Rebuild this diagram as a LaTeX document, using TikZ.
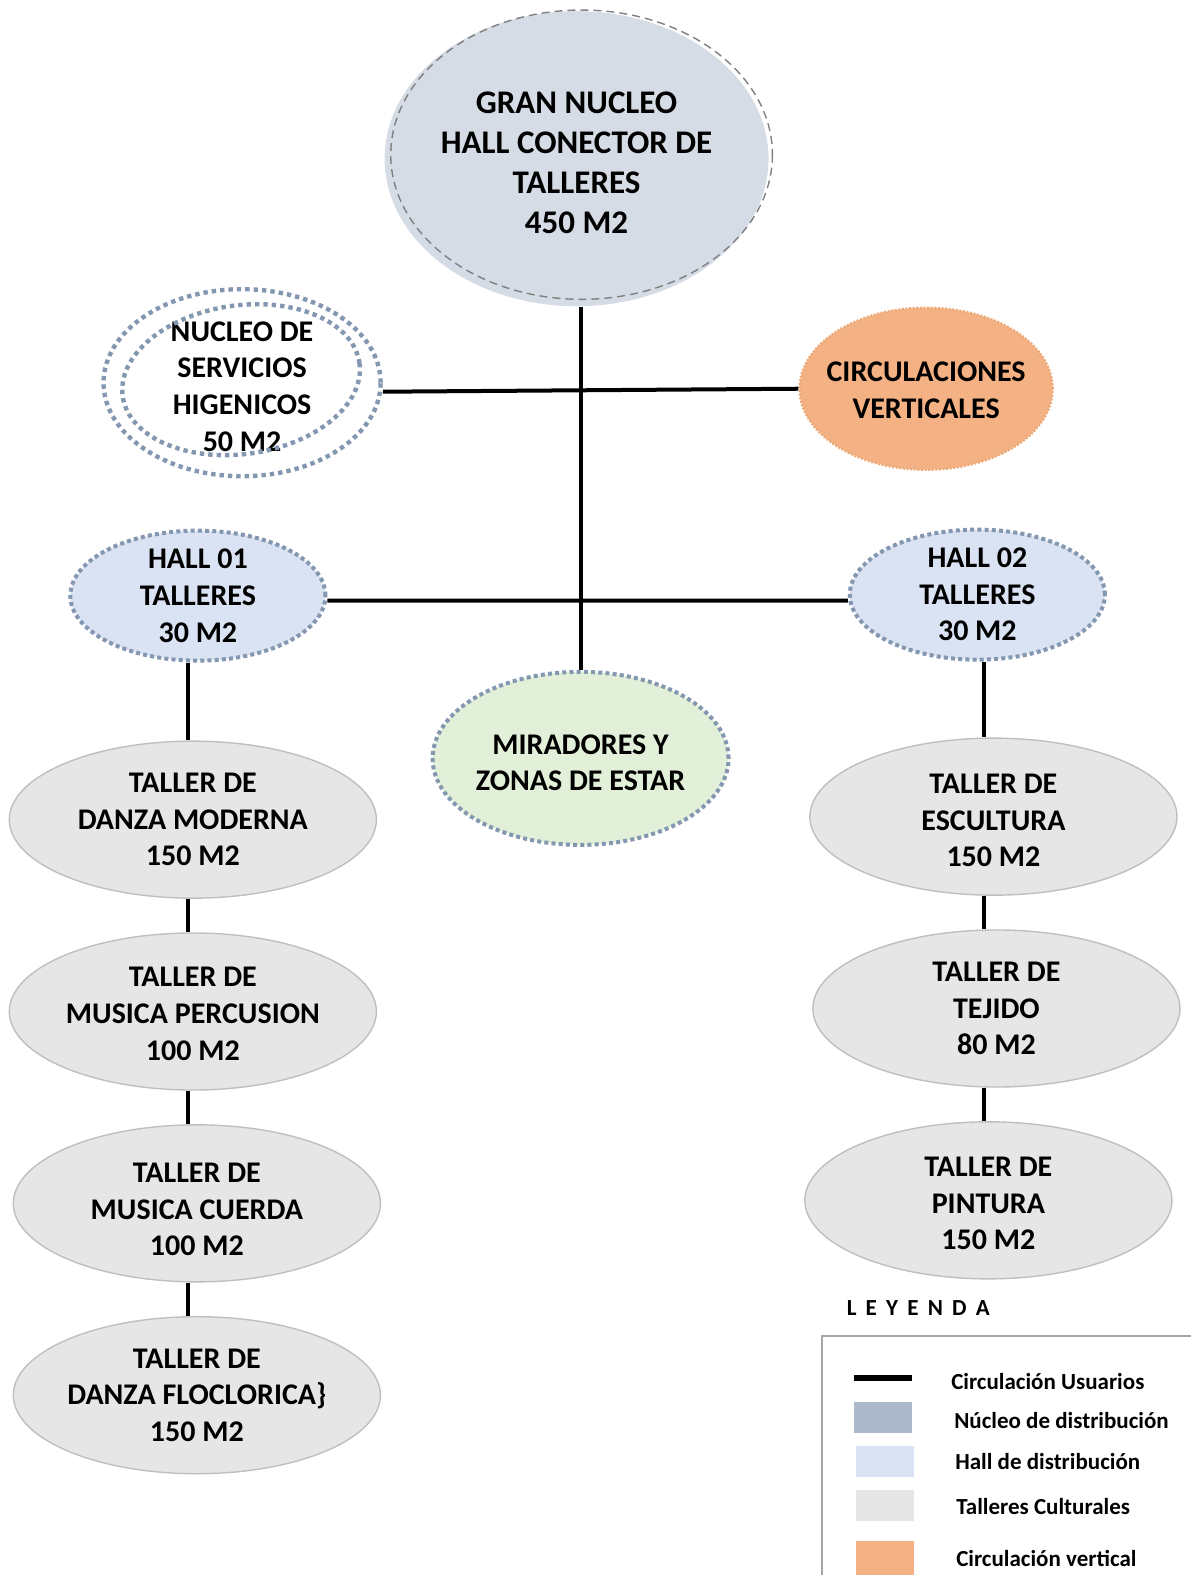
\documentclass[tikz,border=0pt]{standalone}
\usepackage{fontspec}
\setmainfont{Carlito}
\usetikzlibrary{shapes.geometric}

\definecolor{nucleofill}{HTML}{D6DCE5}
\definecolor{hallfill}{HTML}{DAE3F3}
\definecolor{dotblue}{HTML}{8497B0}
\definecolor{miradfill}{HTML}{E2F0D9}
\definecolor{tallerfill}{HTML}{E6E6E6}
\definecolor{tallerline}{HTML}{BFBFBF}
\definecolor{circfill}{HTML}{F4B183}
\definecolor{legnucleo}{HTML}{ADB9CA}

\begin{document}
\begin{tikzpicture}[x=0.5021pt,y=-0.5021pt,
  conn/.style={line width=2pt,black},
  txt/.style={font=\bfseries\fontsize{15}{18.3}\selectfont,align=center},
  oval/.style={ellipse,inner sep=0pt,txt},
  tdown/.style={text height=#1,text depth=0pt},
  taller/.style={oval,fill=tallerfill,draw=tallerline,line width=0.7pt,
    minimum width=183.5pt,minimum height=78.5pt},
  hall/.style={oval,fill=hallfill,draw=dotblue,line width=2pt,
    dash pattern=on 2pt off 1.6pt,minimum width=127.5pt,minimum height=65pt,inner ysep=-4pt},
  legtxt/.style={anchor=west,font=\bfseries\fontsize{11.5}{13}\selectfont},
  swatch/.style={minimum width=29pt,minimum height=15.5pt,inner sep=0pt,anchor=west}]
\useasboundingbox (0,0) rectangle (1186,1568);

% gran nucleo
\node (nucleo) [oval,fill=nucleofill,minimum width=189pt,minimum height=147.5pt,
  font=\bfseries\fontsize{16.5}{20}\selectfont,tdown=74.9pt] at (574,158)
  {GRAN NUCLEO\\HALL CONECTOR DE\\TALLERES\\450 M2};
\draw[gray,line width=0.7pt,dash pattern=on 4pt off 2.5pt] (579,154) ellipse (190 and 144);

% servicios y circulaciones
\node (serv) [oval,draw=dotblue,line width=2.2pt,dash pattern=on 2.2pt off 2pt,
  minimum width=138.5pt,minimum height=93.5pt,inner ysep=-4pt,tdown=68.4pt] at (241,381)
  {NUCLEO DE\\SERVICIOS\\HIGENICOS\\50 M2};
\draw[dotblue,line width=2.2pt,dash pattern=on 2.2pt off 2pt,rotate around={8:(240,378)}]
  (240,378) ellipse (119 and 74);
\node (circ) [oval,fill=circfill,draw=circfill!85!brown,line width=1.2pt,
  dash pattern=on 1pt off 0.8pt,minimum width=126.5pt,minimum height=81pt,inner xsep=-6pt,
  tdown=29.8pt] at (922,387) {CIRCULACIONES\\VERTICALES};

% halls y miradores
\node (hall1) [hall] at (197,593) {HALL 01\\TALLERES\\30 M2};
\node (hall2) [hall] at (973,592) {HALL 02\\TALLERES\\30 M2};
\node (mirad) [oval,fill=miradfill,draw=dotblue,line width=2pt,dash pattern=on 2pt off 1.6pt,
  minimum width=143.5pt,minimum height=86.5pt,tdown=32.3pt] at (578,755)
  {MIRADORES Y\\ZONAS DE ESTAR};

% talleres
\node (danzam) [taller] at (192,816) {TALLER DE\\DANZA MODERNA\\150 M2};
\node (musperc) [taller,tdown=48.6pt] at (192,1007) {TALLER DE\\MUSICA PERCUSION\\100 M2};
\node (muscuer) [taller,tdown=52.6pt] at (196,1198) {TALLER DE\\MUSICA CUERDA\\100 M2};
\node (danzaf) [taller] at (196,1389) {TALLER DE\\DANZA FLOCLORICA\}\\150 M2};
\node (escult) [taller,tdown=50.1pt] at (989,813) {TALLER DE\\ESCULTURA\\150 M2};
\node (tejido) [taller] at (992,1004) {TALLER DE\\TEJIDO\\80 M2};
\node (pintura) [taller,tdown=49.6pt] at (984,1195) {TALLER DE\\PINTURA\\150 M2};

% circulacion
\coordinate (lcol) at (187,0);
\coordinate (rcol) at (980,0);
\draw[conn] (mirad) -- (mirad |- nucleo.south);
\draw[conn] ([yshift=-4.5pt]serv.east) -- (circ.west);
\draw[conn] ([yshift=-2.5pt]hall1.east) -- ([yshift=-3pt]hall2.west);
\draw[conn] (hall1.south -| lcol) -- (danzam.north -| lcol);
\draw[conn] (danzam.south -| lcol) -- (musperc.north -| lcol);
\draw[conn] (musperc.south -| lcol) -- (muscuer.north -| lcol);
\draw[conn] (muscuer.south -| lcol) -- (danzaf.north -| lcol);
\draw[conn] (hall2.south -| rcol) -- (escult.north -| rcol);
\draw[conn] (escult.south -| rcol) -- (tejido.north -| rcol);
\draw[conn] (tejido.south -| rcol) -- (pintura.north -| rcol);

% leyenda
\node (leyenda) [legtxt] at (836,1302)
  {L\hspace{4.6pt}E\hspace{4.6pt}Y\hspace{4.6pt}E\hspace{4.6pt}N\hspace{4.6pt}D\hspace{4.6pt}A};
\draw[gray!70,line width=1pt] (818,1568) -- (818,1330) -- (1186,1330);
\coordinate (la) at (850,1372);
\coordinate (lb) at (908,1372);
\draw[line width=3pt] (la) -- (lb);
\node (sw1) [swatch,fill=legnucleo] at (850,1411) {};
\node (sw2) [swatch,fill=hallfill] at (852,1455) {};
\node (sw3) [swatch,fill=tallerfill] at (852,1499) {};
\node (sw4) [swatch,fill=circfill,minimum height=18pt] at (852,1552) {};
\node (l0) [legtxt] at (940,1375) {Circulación Usuarios};
\node (l1) [legtxt] at (943,1414) {Núcleo de distribución};
\node (l2) [legtxt] at (944,1455) {Hall de distribución};
\node (l3) [legtxt] at (945,1500) {Talleres Culturales};
\node (l4) [legtxt] at (945,1552) {Circulación vertical};
\end{tikzpicture}
\end{document}
